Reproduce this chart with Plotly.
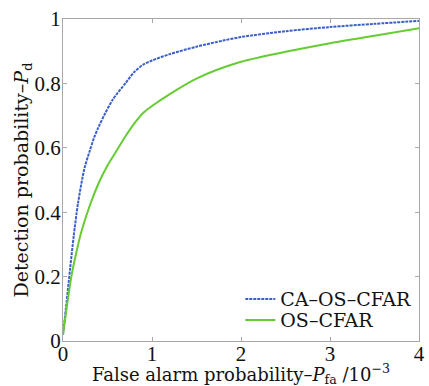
import plotly.graph_objects as go

pfa_ca_os = [0, 0.04, 0.08, 0.12, 0.17, 0.24, 0.3, 0.35, 0.4, 0.47, 0.56, 0.7, 0.8, 0.9, 1.0, 1.2, 1.5, 1.8, 2.0, 2.5, 3.0, 3.5, 4.0]
pd_ca_os = [0.02, 0.12, 0.225, 0.325, 0.43, 0.535, 0.59, 0.632, 0.665, 0.705, 0.75, 0.80, 0.835, 0.858, 0.871, 0.891, 0.914, 0.933, 0.944, 0.962, 0.975, 0.985, 0.994]

pfa_os = [0, 0.05, 0.1, 0.15, 0.2, 0.3, 0.4, 0.5, 0.6, 0.7, 0.8, 0.9, 1.0, 1.2, 1.5, 2.0, 2.5, 3.0, 3.5, 4.0]
pd_os = [0.02, 0.12, 0.21, 0.275, 0.333, 0.42, 0.49, 0.545, 0.59, 0.635, 0.675, 0.708, 0.73, 0.767, 0.815, 0.867, 0.898, 0.925, 0.948, 0.971]

x_ticks = [0, 1, 2, 3, 4]
y_ticks = [0, 0.2, 0.4, 0.6, 0.8, 1]
y_tick_text = ["0", "0.2", "0.4", "0.6", "0.8", "1"]

x_title = "False alarm probability\u2013<i>P</i><sub>fa</sub> /10<sup>\u22123</sup>"
y_title = "Detection probability\u2013<i>P</i><sub>d</sub>"

FONT = "DejaVu Serif"
TICKFONT = "Liberation Serif"

fig = go.Figure()
fig.add_trace(go.Scatter(x=pfa_ca_os, y=pd_ca_os, mode="lines", name="CA\u2013OS\u2013CFAR", legend="legend",
                         line=dict(color="#3a5fcd", width=2, dash="3px,1px", shape="spline", smoothing=0.8)))
fig.add_trace(go.Scatter(x=pfa_os, y=pd_os, mode="lines", name="OS\u2013CFAR", legend="legend2",
                         line=dict(color="#66cc33", width=2, shape="spline", smoothing=0.8)))

axis_common = dict(showgrid=False, zeroline=False, showline=True, linecolor="#a8a8a8", linewidth=1,
                   mirror="ticks", ticks="inside", ticklen=4, tickcolor="#a8a8a8", automargin=False,
                   tickfont=dict(family=TICKFONT, size=21, color="#111111"))

fig.update_xaxes(range=[0, 4], tickvals=x_ticks, ticktext=[str(v) for v in x_ticks], ticklabelstandoff=-6,
                 **axis_common)
fig.update_yaxes(range=[0, 1], tickvals=y_ticks, ticktext=y_tick_text, ticklabelstandoff=-3,
                 title=dict(text=y_title, font=dict(family=FONT, size=19, color="#111111"), standoff=0),
                 **axis_common)

fig.add_annotation(text=x_title, xref="paper", yref="paper", x=0.5, y=-0.102,
                   xanchor="center", yanchor="middle", showarrow=False,
                   font=dict(family=FONT, size=18, color="#111111"))

leg_common = dict(xanchor="left", yanchor="middle", bgcolor="rgba(0,0,0,0)",
                  font=dict(family=FONT, size=19, color="#111111"), itemwidth=30)

fig.update_layout(
    width=429, height=386,
    margin=dict(l=63, r=10, t=19, b=45),
    paper_bgcolor="white", plot_bgcolor="white",
    showlegend=True,
    legend=dict(x=0.498, y=0.130, **leg_common),
    legend2=dict(x=0.498, y=0.065, **leg_common),
)

fig.write_html("out.html")
